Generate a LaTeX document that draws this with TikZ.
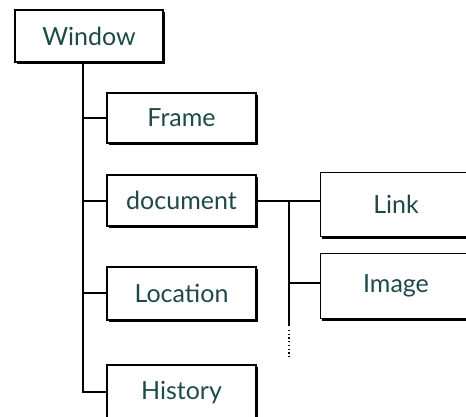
\documentclass[tikz,border=0pt]{standalone}
\usepackage{fontspec}
\setmainfont{Lato}
\usetikzlibrary{shadows}
\definecolor{txt}{HTML}{1E4A48}
\tikzset{
  box/.style={draw=black, line width=1.1pt, fill=white, text=txt,
    minimum width=149pt, minimum height=51pt, inner sep=0pt,
    font=\fontsize{25}{28}\selectfont,
    drop shadow={shadow xshift=2pt, shadow yshift=-2pt, opacity=1, fill=black}},
  openbox/.style={draw=none, fill=none, text=txt, inner sep=0pt,
    minimum width=150pt, font=\fontsize{25}{28}\selectfont},
  conn/.style={line width=1.4pt, black},
}
\begin{document}
\begin{tikzpicture}[x=1pt, y=-1pt]
\useasboundingbox (0,0) rectangle (466,416);
\fill[white] (0,0) rectangle (466,416);
\clip (0,0) rectangle (466,416);
\coordinate (redge) at (466,0);
% nodes
\node[box, minimum width=148pt, minimum height=52pt] (window) at (89,36) {Window};
\node[box, minimum height=50pt] (frame) at (181.5,118) {Frame};
\node[box] (document) at (181.5,200.5) {document};
\node[box, minimum height=53pt] (location) at (181.5,293.5) {Location};
\node[box, minimum height=56pt] (history) at (181.5,393) {History};
\node[openbox, minimum height=63pt] (link) at (396,204.5) {Link};
\node[openbox, minimum height=64pt] (image) at (396,286) {Image};
% open-ended boxes (cut by the right edge)
\foreach \n in {link,image}{
  \draw[line width=1.1pt] (\n.north west -| redge) -- (\n.north west) -- (\n.south west) -- (\n.south west -| redge);
  \draw[line width=2pt] ([xshift=1pt,yshift=-1.5pt]\n.south west) -- ([yshift=-1.5pt]\n.south west -| redge);
}
% coordinates
\coordinate (t0) at (83,62);
\coordinate (tf) at (83,118);
\coordinate (td) at (83,201);
\coordinate (tl) at (83,293);
\coordinate (th) at (83,392);
\coordinate (b0) at (289,201);
\coordinate (bi) at (289,283);
\coordinate (bend) at (289,326);
\coordinate (dend) at (289,359);
% connectors
\draw[conn] (t0) -- (th) -- (th -| history.west);
\draw[conn] (tf) -- (tf -| frame.west);
\draw[conn] (td) -- (td -| document.west);
\draw[conn] (tl) -- (tl -| location.west);
\draw[conn] (document.east |- b0) -- (b0 -| link.west);
\draw[conn] (b0) -- (bend);
\draw[conn] (bi) -- (bi -| image.west);
\draw[line width=1.4pt, dash pattern=on 1.3pt off 2.4pt] (289,330) -- (dend);
\end{tikzpicture}
\end{document}
